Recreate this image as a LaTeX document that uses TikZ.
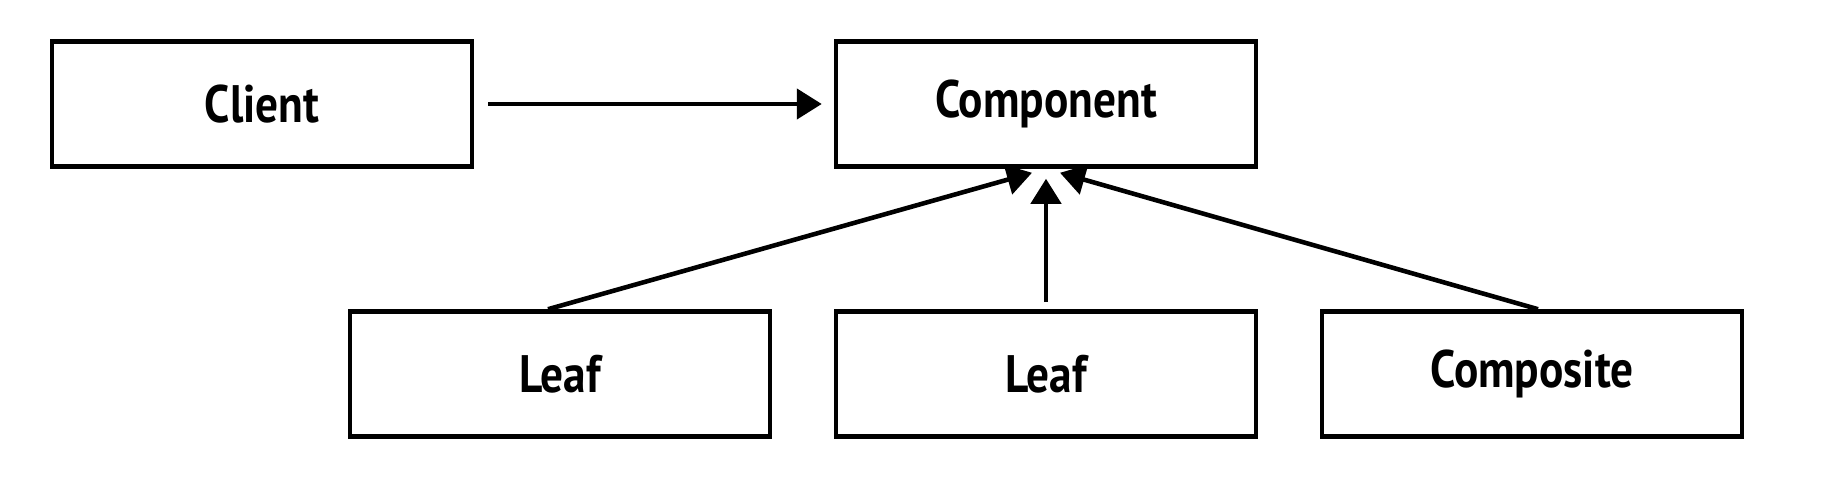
\documentclass[tikz,border=0pt]{standalone}
\usepackage{fontspec}
\setmainfont{PT Sans}[FakeStretch=0.86]
\usetikzlibrary{arrows.meta,calc}

\begin{document}
\begin{tikzpicture}[x=0.02cm, y=-0.02cm, line width=2.6pt,
    box/.style={draw, minimum width=8.4cm, minimum height=2.5cm,
      font=\fontsize{30}{34}\selectfont\bfseries},
    arr/.style={-{Triangle[length=0.5cm, width=0.6cm]}}]
  \useasboundingbox (0,0) rectangle (1848,482);
  \node[box] (client) at (262,104) {Client};
  \node[box] (comp) at (1046,104) {Component};
  \node[box] (leafa) at (560,374) {Leaf};
  \node[box] (leafb) at (1046,374) {Leaf};
  \node[box] (compo) at (1532,374) {Composite};
  \draw[arr, shorten <=0.28cm, shorten >=0.24cm] (client) -- (comp);
  \draw[arr] ($(leafa.north)+(-12,0)$) -- ($(comp.south)+(-14,4)$);
  \draw[arr] ($(leafb.north)+(0,-7)$) -- ($(comp.south)+(0,10)$);
  \draw[arr] ($(compo.north)+(6,0)$) -- ($(comp.south)+(14,4)$);
\end{tikzpicture}
\end{document}
